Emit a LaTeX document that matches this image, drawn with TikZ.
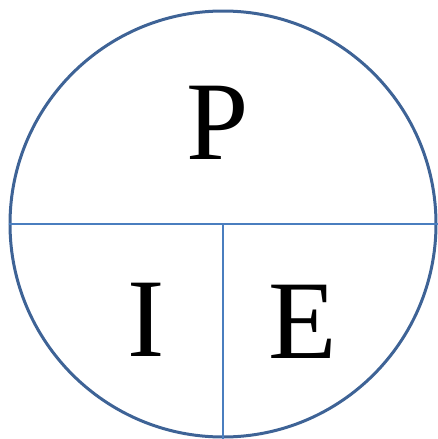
\documentclass[tikz,border=0pt]{standalone}
\usepackage{fontspec}
\setmainfont{Liberation Serif}
\usepackage{tikz}
\usetikzlibrary{positioning}
\definecolor{rimblue}{HTML}{3E6396}
\definecolor{splitblue}{HTML}{4A7EBF}
\tikzset{
  letter/.style={inner sep=0pt, font=\fontsize{112}{112}\selectfont},
  split/.style={draw=splitblue, line width=2.4pt}
}
\begin{document}
\begin{tikzpicture}[x=1pt, y=-1pt]
  \useasboundingbox (0,0) rectangle (437,439);
  % the pie
  \node[circle, draw=rimblue, line width=3pt, minimum size=426pt, inner sep=0pt] (pie) at (223,224) {};
  \coordinate (cut) at (223,224);
  \coordinate (foot) at (223,439);
  \draw[split] (pie.west) -- (pie.east);
  \draw[split] (cut) -- (foot);
  % letters
  \node[letter] (p) at (218,123) {P};
  \node[letter] (i) at (146,320) {I};
  \node[letter] (e) at (303,322) {E};
\end{tikzpicture}
\end{document}
